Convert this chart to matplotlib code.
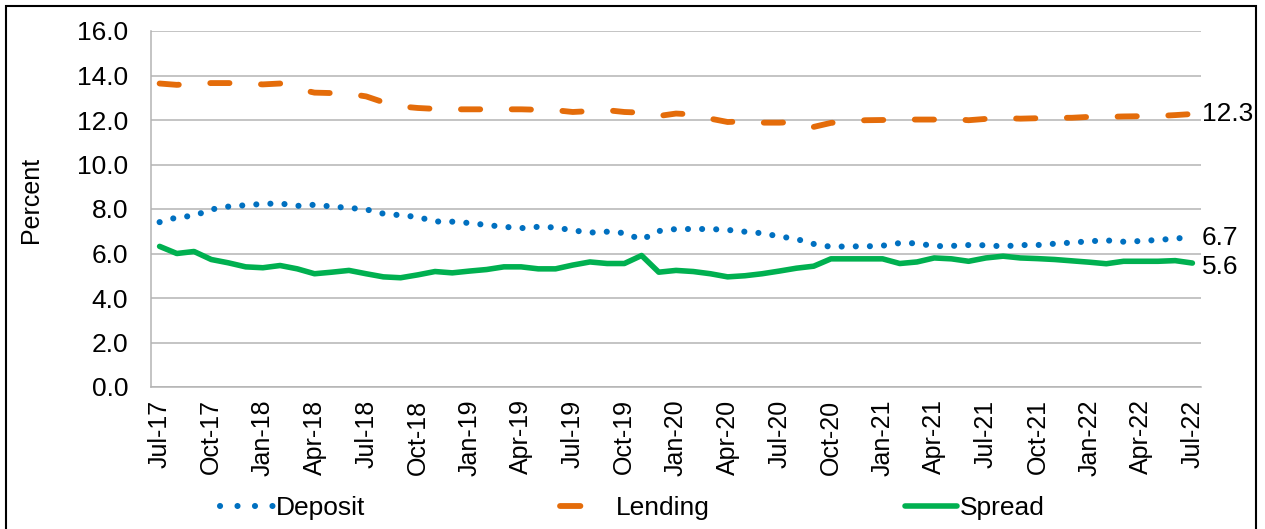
import matplotlib
matplotlib.use("Agg")
import matplotlib.pyplot as plt
from matplotlib.patches import Rectangle
from matplotlib.lines import Line2D

# ---------------- data ----------------
months = ["Jul-17", "Aug-17", "Sep-17", "Oct-17", "Nov-17", "Dec-17",
          "Jan-18", "Feb-18", "Mar-18", "Apr-18", "May-18", "Jun-18",
          "Jul-18", "Aug-18", "Sep-18", "Oct-18", "Nov-18", "Dec-18",
          "Jan-19", "Feb-19", "Mar-19", "Apr-19", "May-19", "Jun-19",
          "Jul-19", "Aug-19", "Sep-19", "Oct-19", "Nov-19", "Dec-19",
          "Jan-20", "Feb-20", "Mar-20", "Apr-20", "May-20", "Jun-20",
          "Jul-20", "Aug-20", "Sep-20", "Oct-20", "Nov-20", "Dec-20",
          "Jan-21", "Feb-21", "Mar-21", "Apr-21", "May-21", "Jun-21",
          "Jul-21", "Aug-21", "Sep-21", "Oct-21", "Nov-21", "Dec-21",
          "Jan-22", "Feb-22", "Mar-22", "Apr-22", "May-22", "Jun-22",
          "Jul-22"]

deposit = [7.41, 7.62, 7.70, 7.98, 8.11, 8.17, 8.23, 8.25, 8.14, 8.19,
           8.11, 8.05, 7.98, 7.79, 7.72, 7.64, 7.44, 7.43, 7.37, 7.28,
           7.20, 7.14, 7.20, 7.17, 7.04, 6.94, 6.98, 6.92, 6.62, 7.01,
           7.10, 7.10, 7.10, 7.06, 6.98, 6.91, 6.77, 6.65, 6.43, 6.30,
           6.32, 6.32, 6.35, 6.47, 6.46, 6.33, 6.34, 6.38, 6.37, 6.32,
           6.38, 6.38, 6.44, 6.49, 6.55, 6.59, 6.53, 6.56, 6.61, 6.67,
           6.74]

lending = [13.64, 13.58, 13.63, 13.66, 13.66, 13.64, 13.60, 13.64, 13.40, 13.23,
           13.21, 13.18, 13.06, 12.80, 12.61, 12.54, 12.50, 12.48, 12.48, 12.48,
           12.48, 12.48, 12.46, 12.44, 12.36, 12.40, 12.44, 12.36, 12.33, 12.18,
           12.29, 12.25, 12.06, 11.91, 11.94, 11.88, 11.88, 11.91, 11.69, 11.87,
           11.93, 11.99, 12.00, 12.02, 12.02, 12.02, 12.05, 11.99, 12.05, 12.09,
           12.06, 12.08, 12.10, 12.10, 12.14, 12.14, 12.16, 12.17, 12.18, 12.22,
           12.27]

spread = [6.32, 6.00, 6.09, 5.73, 5.58, 5.40, 5.36, 5.46, 5.31, 5.09,
          5.16, 5.24, 5.09, 4.95, 4.91, 5.04, 5.19, 5.13, 5.21, 5.28,
          5.40, 5.40, 5.31, 5.31, 5.48, 5.62, 5.55, 5.55, 5.91, 5.16,
          5.24, 5.19, 5.09, 4.95, 5.00, 5.09, 5.21, 5.34, 5.43, 5.76,
          5.76, 5.76, 5.76, 5.55, 5.62, 5.80, 5.76, 5.65, 5.80, 5.88,
          5.80, 5.77, 5.73, 5.67, 5.61, 5.54, 5.65, 5.65, 5.65, 5.68,
          5.57]

series_names = ["Deposit", "Lending", "Spread"]
tick_step = 3
yticks = [0, 2, 4, 6, 8, 10, 12, 14, 16]

c_dep = "#0070C0"
c_len = "#E46C0A"
c_spr = "#00B050"

plt.rcParams["font.family"] = ["Liberation Sans", "DejaVu Sans"]

W, H = 1265, 529
fig = plt.figure(figsize=(W / 100, H / 100), dpi=100)
L, R, T, B = 151, 1201, 31, 387
ax = fig.add_axes([L / W, 1 - B / H, (R - L) / W, (B - T) / H])

x = list(range(len(months)))

dep_style = dict(color=c_dep, lw=4.4, dash_capstyle="round")
len_style = dict(color=c_len, lw=4.2, dash_capstyle="round")
spr_style = dict(color=c_spr, lw=4.0, solid_capstyle="round")

ax.plot(x, deposit, linestyle=(0, (0.01, 2.3)), zorder=3, **dep_style)
ax.plot(x, lending, linestyle=(0, (3.3, 5.4)), zorder=3, **len_style)
ax.plot(x, spread, solid_joinstyle="round", zorder=3, **spr_style)

ax.set_xlim(-0.5, len(months) - 0.5)
ax.set_ylim(0, 16)
ax.set_yticks(yticks)
ax.set_yticklabels([f"{v:.1f}" for v in yticks], fontsize=19)
ax.set_xticks(x[::tick_step])
ax.set_xticklabels(months[::tick_step], rotation=90, fontsize=18)
ax.tick_params(axis="y", length=0, pad=16.5)
ax.tick_params(axis="x", length=0, pad=9)

ax.grid(axis="y", color="#B4B4B4", lw=1.1)
ax.set_axisbelow(True)
for s in ["top", "right"]:
    ax.spines[s].set_visible(False)
for s in ["left", "bottom"]:
    ax.spines[s].set_color("#B4B4B4")
    ax.spines[s].set_linewidth(1.1)

fig.text(31 / W, 1 - 200 / H, "Percent", rotation=90, fontsize=18,
         ha="center", va="center")

# end labels
for series, dy in [(lending, 0), (deposit, -1), (spread, -3)]:
    ax.annotate(f"{series[-1]:.1f}", xy=(x[-1], series[-1]),
                xytext=(7, dy), textcoords="offset points",
                fontsize=19, ha="left", va="center", annotation_clip=False)

handles = [
    Line2D([], [], linestyle=(0, (0.01, 2.85)), **dep_style),
    Line2D([], [], linestyle=(0, (3.5, 12)), **len_style),
    Line2D([], [], linestyle="-", **spr_style),
]
fig.legend(handles=handles, labels=series_names, loc="center",
           bbox_to_anchor=(0.5, 1 - 508 / H), ncol=3, frameon=False,
           fontsize=19, handlelength=2.0, handletextpad=0.1,
           columnspacing=7.4)

fig.patches.append(Rectangle((6 / W, -0.1), (1256 - 6) / W, 1.1 - 6 / H,
                             transform=fig.transFigure, fill=False,
                             edgecolor="black", lw=1.5))

fig.savefig("out.png", dpi=100)
